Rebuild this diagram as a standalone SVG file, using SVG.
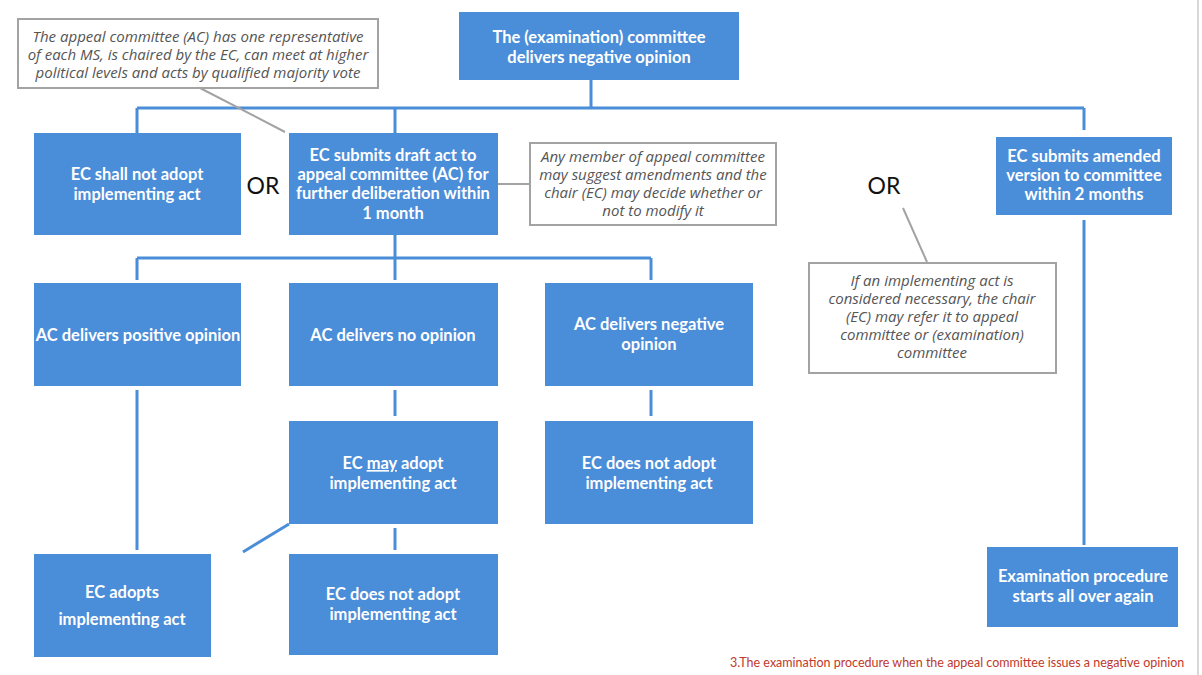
<svg xmlns="http://www.w3.org/2000/svg" width="1202" height="675" viewBox="0 0 1202 675">
  <style>
    .box { fill: #4a8dd8; }
    .bt { font-family: Lato, "Open Sans", sans-serif; font-size: 16.5px; font-weight: bold; fill: #ffffff; text-anchor: middle; }
    .note { fill: #ffffff; stroke: #a3a3a3; stroke-width: 2; }
    .nt { font-family: "Open Sans", Lato, sans-serif; font-size: 15px; font-style: italic; fill: #555555; text-anchor: middle; }
    .or { font-family: Lato, "Open Sans", sans-serif; font-size: 23px; fill: #111111; text-anchor: middle; }
    .link { stroke: #4a8dd8; stroke-width: 3; fill: none; }
    .callout { stroke: #a3a3a3; stroke-width: 2; fill: none; }
  </style>
  <rect x="0" y="0" width="1202" height="675" fill="#ffffff"/>
  <line x1="1198" y1="0" x2="1198" y2="675" stroke="#d8d8d8" stroke-width="2"/>

  <g id="connectors">
    <path class="link" d="M591 80 V108 M137 108 H1084 M137 108 V133 M395 108 V133 M1084 108 V130"/>
    <path class="link" d="M395 235 V258 M137 258 H651 M137 258 V280 M395 258 V280 M651 258 V280"/>
    <path class="link" d="M137 390 V550 M395 390 V416 M651 390 V416 M395 528 V550"/>
    <path class="link" d="M289 524 L243 552"/>
    <path class="link" d="M1084 220 V545"/>
    <path class="callout" d="M200 88 L285 132 M498 184 H530 M903 208 L927 262"/>
  </g>

  <g id="n-exam-negative">
    <rect class="box" x="459" y="12" width="280" height="68"/>
    <text class="bt" x="599" y="43">The (examination) committee</text>
    <text class="bt" x="599" y="63">delivers negative opinion</text>
  </g>

  <g id="note-ac">
    <rect class="note" x="18" y="19" width="360" height="69"/>
    <text class="nt" x="198" y="42">The appeal committee (AC) has one representative</text>
    <text class="nt" x="198" y="60">of each MS, is chaired by the EC, can meet at higher</text>
    <text class="nt" x="198" y="78">political levels and acts by qualified majority vote</text>
  </g>

  <g id="n-shall-not">
    <rect class="box" x="34" y="133" width="207" height="102"/>
    <text class="bt" x="137" y="180">EC shall not adopt</text>
    <text class="bt" x="137" y="200">implementing act</text>
  </g>

  <g id="or-1"><text class="or" x="263" y="194">OR</text></g>

  <g id="n-submit-draft">
    <rect class="box" x="289" y="133" width="209" height="102"/>
    <text class="bt" x="393" y="161">EC submits draft act to</text>
    <text class="bt" x="393" y="180">appeal committee (AC) for</text>
    <text class="bt" x="393" y="199">further deliberation within</text>
    <text class="bt" x="393" y="219">1 month</text>
  </g>

  <g id="note-amend">
    <rect class="note" x="530" y="143" width="246" height="82"/>
    <text class="nt" x="653" y="162">Any member of appeal committee</text>
    <text class="nt" x="653" y="180">may suggest amendments and the</text>
    <text class="nt" x="653" y="198">chair (EC) may decide whether or</text>
    <text class="nt" x="653" y="216">not to modify it</text>
  </g>

  <g id="or-2"><text class="or" x="884" y="194">OR</text></g>

  <g id="n-amended">
    <rect class="box" x="996" y="137" width="176" height="78"/>
    <text class="bt" x="1084" y="162">EC submits amended</text>
    <text class="bt" x="1084" y="181">version to committee</text>
    <text class="bt" x="1084" y="200">within 2 months</text>
  </g>

  <g id="note-refer">
    <rect class="note" x="809" y="263" width="247" height="110"/>
    <text class="nt" x="932" y="286">If an implementing act is</text>
    <text class="nt" x="932" y="304">considered necessary, the chair</text>
    <text class="nt" x="932" y="322">(EC) may refer it to appeal</text>
    <text class="nt" x="932" y="340">committee or (examination)</text>
    <text class="nt" x="932" y="358">committee</text>
  </g>

  <g id="n-ac-positive">
    <rect class="box" x="34" y="283" width="207" height="103"/>
    <text class="bt" x="138" y="341">AC delivers positive opinion</text>
  </g>

  <g id="n-ac-none">
    <rect class="box" x="289" y="283" width="209" height="103"/>
    <text class="bt" x="393" y="341">AC delivers no opinion</text>
  </g>

  <g id="n-ac-negative">
    <rect class="box" x="545" y="283" width="208" height="103"/>
    <text class="bt" x="649" y="330">AC delivers negative</text>
    <text class="bt" x="649" y="350">opinion</text>
  </g>

  <g id="n-may-adopt">
    <rect class="box" x="289" y="421" width="209" height="103"/>
    <text class="bt" x="393" y="469">EC <tspan text-decoration="underline">may</tspan> adopt</text>
    <text class="bt" x="393" y="489">implementing act</text>
  </g>

  <g id="n-not-adopt-1">
    <rect class="box" x="545" y="421" width="208" height="103"/>
    <text class="bt" x="649" y="469">EC does not adopt</text>
    <text class="bt" x="649" y="489">implementing act</text>
  </g>

  <g id="n-adopts">
    <rect class="box" x="34" y="554" width="177" height="103"/>
    <text class="bt" x="122" y="598">EC adopts</text>
    <text class="bt" x="122" y="625">implementing act</text>
  </g>

  <g id="n-not-adopt-2">
    <rect class="box" x="289" y="554" width="209" height="101"/>
    <text class="bt" x="393" y="600">EC does not adopt</text>
    <text class="bt" x="393" y="620">implementing act</text>
  </g>

  <g id="n-restart">
    <rect class="box" x="987" y="547" width="191" height="80"/>
    <text class="bt" x="1083" y="582">Examination procedure</text>
    <text class="bt" x="1083" y="602">starts all over again</text>
  </g>

  <text x="730" y="667" font-family="Lato, 'Open Sans', sans-serif" font-size="12.5" fill="#c0392b">3.The examination procedure when the appeal committee issues a negative opinion</text>
</svg>
